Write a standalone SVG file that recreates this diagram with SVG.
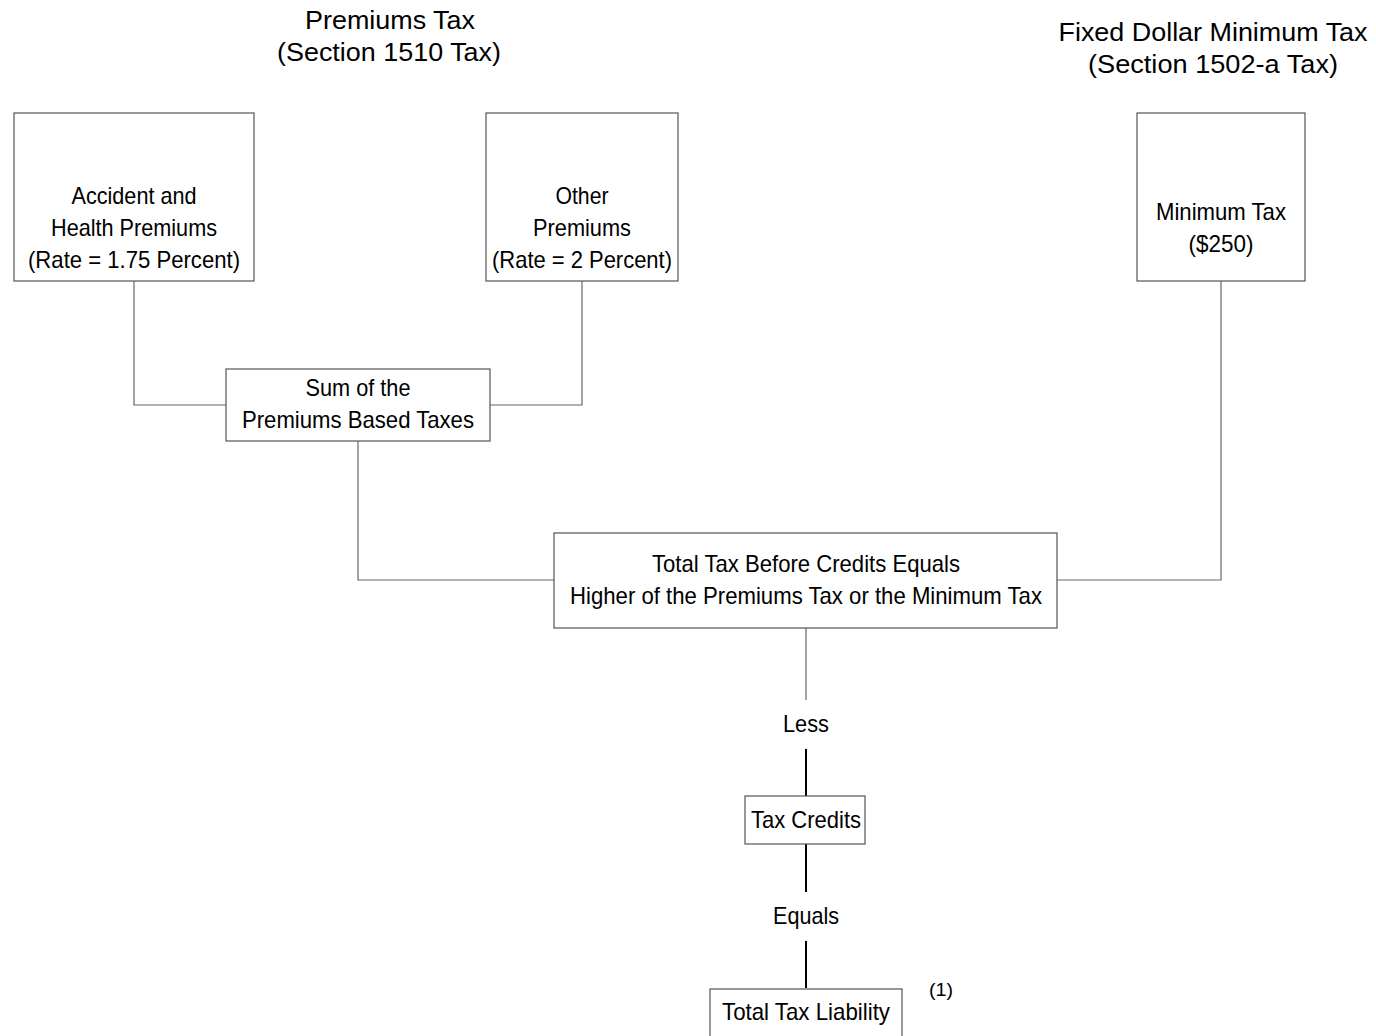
<svg xmlns="http://www.w3.org/2000/svg" width="1376" height="1036" viewBox="0 0 1376 1036">
<style>
.bg{fill:#fff}
.box{fill:#fff;stroke:#555;stroke-width:1.2}
.t{font-family:"Liberation Sans",Arial,sans-serif;font-size:24px;fill:#000;text-anchor:middle}
.h{font-family:"Liberation Sans",Arial,sans-serif;font-size:26px;fill:#000;text-anchor:middle}
.n{font-family:"Liberation Sans",Arial,sans-serif;font-size:19px;fill:#000;text-anchor:middle}
.c{fill:none;stroke:#666;stroke-width:1.2}
.k{fill:none;stroke:#000;stroke-width:2}
</style>
<rect class="bg" x="0" y="0" width="1376" height="1036"/>
<g id="headings">
<text class="h" x="390" y="29" textLength="170" lengthAdjust="spacingAndGlyphs">Premiums Tax</text>
<text class="h" x="389" y="61" textLength="224" lengthAdjust="spacingAndGlyphs">(Section 1510 Tax)</text>
<text class="h" x="1213" y="41" textLength="309" lengthAdjust="spacingAndGlyphs">Fixed Dollar Minimum Tax</text>
<text class="h" x="1213" y="73" textLength="250" lengthAdjust="spacingAndGlyphs">(Section 1502-a Tax)</text>
</g>
<g id="connectors">
<polyline class="c" points="134,281 134,405 226,405"/>
<polyline class="c" points="582,281 582,405 490,405"/>
<polyline class="c" points="358,441 358,580 554,580"/>
<polyline class="c" points="1221,281 1221,580 1057,580"/>
<line class="c" x1="806" y1="628" x2="806" y2="700"/>
<line class="k" x1="806" y1="749" x2="806" y2="796"/>
<line class="k" x1="806" y1="844" x2="806" y2="892"/>
<line class="k" x1="806" y1="941" x2="806" y2="988"/>
<text class="t" x="806" y="732" textLength="46" lengthAdjust="spacingAndGlyphs">Less</text>
<text class="t" x="806" y="924" textLength="66" lengthAdjust="spacingAndGlyphs">Equals</text>
</g>
<g id="accident">
<rect class="box" x="14" y="113" width="240" height="168"/>
<text class="t" x="134" y="204" textLength="125" lengthAdjust="spacingAndGlyphs">Accident and</text>
<text class="t" x="134" y="236" textLength="166" lengthAdjust="spacingAndGlyphs">Health Premiums</text>
<text class="t" x="134" y="268" textLength="212" lengthAdjust="spacingAndGlyphs">(Rate = 1.75 Percent)</text>
</g>
<g id="other">
<rect class="box" x="486" y="113" width="192" height="168"/>
<text class="t" x="582" y="204" textLength="53" lengthAdjust="spacingAndGlyphs">Other</text>
<text class="t" x="582" y="236" textLength="98" lengthAdjust="spacingAndGlyphs">Premiums</text>
<text class="t" x="582" y="268" textLength="180" lengthAdjust="spacingAndGlyphs">(Rate = 2 Percent)</text>
</g>
<g id="minimum">
<rect class="box" x="1137" y="113" width="168" height="168"/>
<text class="t" x="1221" y="220" textLength="130" lengthAdjust="spacingAndGlyphs">Minimum Tax</text>
<text class="t" x="1221" y="252" textLength="65" lengthAdjust="spacingAndGlyphs">($250)</text>
</g>
<g id="sum">
<rect class="box" x="226" y="369" width="264" height="72"/>
<text class="t" x="358" y="396" textLength="105" lengthAdjust="spacingAndGlyphs">Sum of the</text>
<text class="t" x="358" y="428" textLength="232" lengthAdjust="spacingAndGlyphs">Premiums Based Taxes</text>
</g>
<g id="total">
<rect class="box" x="554" y="533" width="503" height="95"/>
<text class="t" x="806" y="572" textLength="308" lengthAdjust="spacingAndGlyphs">Total Tax Before Credits Equals</text>
<text class="t" x="806" y="604" textLength="472" lengthAdjust="spacingAndGlyphs">Higher of the Premiums Tax or the Minimum Tax</text>
</g>
<g id="credits">
<rect class="box" x="745" y="796" width="120" height="48"/>
<text class="t" x="806" y="828" textLength="110" lengthAdjust="spacingAndGlyphs">Tax Credits</text>
</g>
<g id="liability">
<rect class="box" x="710" y="989" width="192" height="60"/>
<text class="t" x="806" y="1020" textLength="168" lengthAdjust="spacingAndGlyphs">Total Tax Liability</text>
<text class="n" x="941" y="996" textLength="24" lengthAdjust="spacingAndGlyphs">(1)</text>
</g>
</svg>
